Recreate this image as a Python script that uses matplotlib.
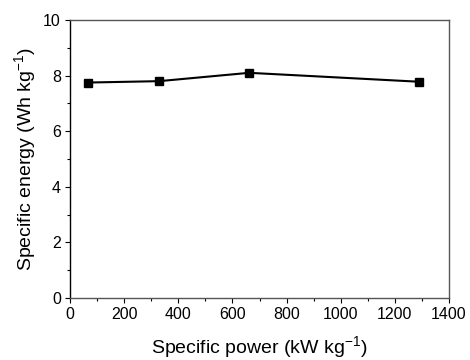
import matplotlib
matplotlib.use('Agg')
import matplotlib.pyplot as plt
from matplotlib.ticker import MultipleLocator

plt.rcParams['font.family'] = ['Liberation Sans', 'DejaVu Sans']
plt.rcParams['mathtext.fontset'] = 'custom'
plt.rcParams['mathtext.rm'] = 'Liberation Sans'

# data
power = [65, 329, 662, 1288]      # kW kg^-1
energy = [7.75, 7.80, 8.10, 7.78]  # Wh kg^-1

fig = plt.figure(figsize=(4.7, 3.6), dpi=100)
ax = fig.add_axes([70 / 470, 62 / 360, 379 / 470, 278 / 360])

ax.plot(power, energy, color='black', linewidth=1.5, marker='s', markersize=6,
        markerfacecolor='black', markeredgecolor='black')

ax.set_xlim(0, 1400)
ax.set_ylim(0, 10)
ax.xaxis.set_major_locator(MultipleLocator(200))
ax.xaxis.set_minor_locator(MultipleLocator(100))
ax.yaxis.set_major_locator(MultipleLocator(2))
ax.yaxis.set_minor_locator(MultipleLocator(1))

ax.tick_params(which='both', direction='out', labelsize=11.5, width=0.8,
               top=False, right=False)
ax.tick_params(which='major', length=3.5, pad=3)
ax.tick_params(which='minor', length=2)

ax.spines['left'].set_color('black')
for s in ['bottom', 'top', 'right']:
    ax.spines[s].set_color('#555555')
for s in ax.spines.values():
    s.set_linewidth(1.0)

ax.set_xlabel(r'Specific power (kW kg$^{-1}$)', fontsize=14, labelpad=9)
ax.set_ylabel(r'Specific energy (Wh kg$^{-1}$)', fontsize=14, labelpad=3)

fig.savefig('out.png', dpi=100)
